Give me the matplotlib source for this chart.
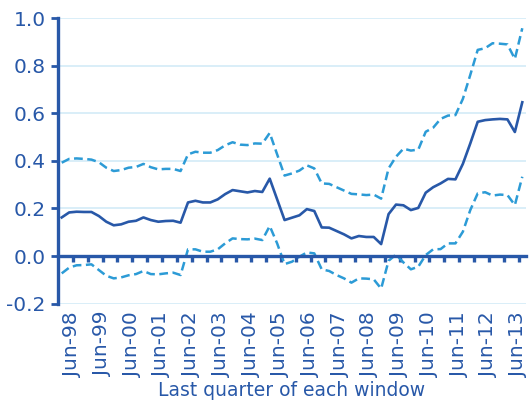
import numpy as np
import matplotlib
matplotlib.use("Agg")
from matplotlib import pyplot as plt

# quarterly windows, Dec-97 .. Jun-13
central = [0.162, 0.183, 0.186, 0.185, 0.185, 0.168, 0.144, 0.129, 0.133, 0.144,
           0.148, 0.162, 0.151, 0.144, 0.147, 0.148, 0.140, 0.225, 0.232, 0.225,
           0.225, 0.238, 0.260, 0.277, 0.272, 0.267, 0.273, 0.269, 0.325, 0.238,
           0.151, 0.161, 0.171, 0.197, 0.189, 0.120, 0.119, 0.105, 0.091, 0.074,
           0.084, 0.080, 0.080, 0.050, 0.176, 0.216, 0.213, 0.193, 0.202, 0.266,
           0.289, 0.305, 0.324, 0.322, 0.387, 0.473, 0.564, 0.571, 0.574, 0.576,
           0.574, 0.521, 0.646]
upper = [0.392, 0.408, 0.410, 0.408, 0.405, 0.394, 0.371, 0.357, 0.361, 0.371,
         0.374, 0.387, 0.373, 0.364, 0.366, 0.366, 0.357, 0.427, 0.438, 0.434,
         0.434, 0.445, 0.465, 0.478, 0.468, 0.466, 0.473, 0.472, 0.517, 0.427,
         0.338, 0.347, 0.359, 0.381, 0.368, 0.305, 0.303, 0.289, 0.275, 0.261,
         0.259, 0.256, 0.258, 0.241, 0.368, 0.417, 0.451, 0.443, 0.447, 0.522,
         0.539, 0.576, 0.590, 0.592, 0.660, 0.761, 0.866, 0.873, 0.894, 0.892,
         0.889, 0.828, 0.957]
lower = [-0.073, -0.049, -0.039, -0.038, -0.035, -0.059, -0.083, -0.094, -0.090, -0.081,
         -0.076, -0.063, -0.076, -0.077, -0.073, -0.070, -0.080, 0.028, 0.028, 0.018,
         0.018, 0.028, 0.053, 0.074, 0.071, 0.070, 0.073, 0.067, 0.126, 0.053,
         -0.034, -0.024, -0.003, 0.015, 0.011, -0.056, -0.063, -0.080, -0.094, -0.112,
         -0.094, -0.095, -0.098, -0.137, -0.020, 0.006, -0.027, -0.056, -0.045, 0.004,
         0.028, 0.029, 0.053, 0.053, 0.102, 0.193, 0.263, 0.268, 0.254, 0.258,
         0.256, 0.214, 0.333]
year_labels = ["Jun-%02d" % (y % 100) for y in range(1998, 2014)]

dark = "#2858a8"
light = "#2c9bd6"
grid = "#cfe9f7"

x = np.arange(len(central))

fig = plt.figure(figsize=(5.3, 4.05), dpi=100)
ax = fig.add_axes([58 / 530, 1 - 303.6 / 405, 468 / 530, (303.6 - 18) / 405])

yt = np.round(np.arange(-0.2, 1.01, 0.2), 1)
for v in yt:
    ax.axhline(v, color=grid, lw=1.1, zorder=0)

ax.plot(x, upper, color=light, lw=1.8, dashes=(3.5, 1.8), zorder=3)
ax.plot(x, lower, color=light, lw=1.8, dashes=(3.5, 1.8), zorder=3)
ax.plot(x, central, color=dark, lw=1.9, zorder=4)

ax.set_xlim(-0.5, len(central) - 0.5)
ax.set_ylim(-0.2, 1.0)

for s in ["top", "right"]:
    ax.spines[s].set_visible(False)
ax.spines["left"].set_color(dark)
ax.spines["left"].set_linewidth(2.4)
ax.spines["bottom"].set_position(("data", 0))
ax.spines["bottom"].set_color(dark)
ax.spines["bottom"].set_linewidth(2.4)
ax.spines["bottom"].set_zorder(5)

ax.set_yticks(yt)
ax.set_yticklabels(["%.1f" % v for v in yt])
ax.tick_params(axis="y", direction="out", length=5, width=2, color=dark,
               labelcolor=dark, labelsize=14.5, pad=4)

ax.set_xticks(np.arange(1.5, len(central) - 0.5, 2))
ax.set_xticklabels([])
ax.tick_params(axis="x", direction="out", length=4, width=2.4, color=dark)

sec = ax.secondary_xaxis("bottom")
sec.set_xticks(np.arange(1.5, len(central) - 0.5, 4))
sec.set_xticklabels(year_labels, rotation=90)
sec.tick_params(length=0, labelcolor=dark, labelsize=14.5, pad=6)
sec.spines["bottom"].set_visible(False)
sec.set_xlabel("Last quarter of each window", color=dark, fontsize=13.5, labelpad=3)

fig.savefig("out.png", dpi=100)
